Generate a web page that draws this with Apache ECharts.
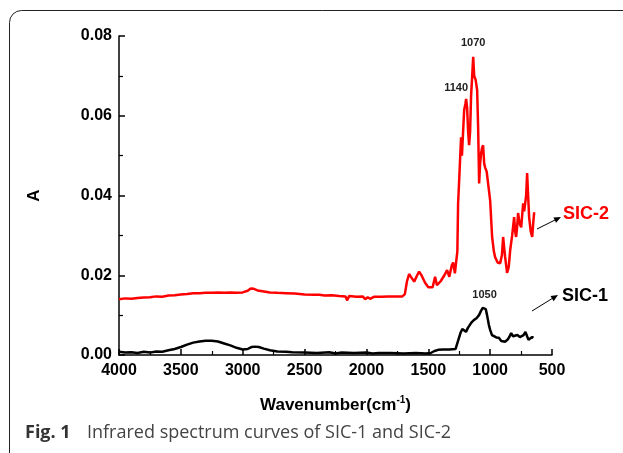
<!DOCTYPE html>
<html>
<head>
<meta charset="utf-8">
<script src="https://cdn.jsdelivr.net/npm/echarts@6/dist/echarts.min.js"></script>
<style>
html,body{margin:0;padding:0;background:#fff;}
#chart{width:623px;height:453px;}
</style>
</head>
<body>
<div id="chart"></div>
<script>
// ---- data ----
var xTicks = [500, 1000, 1500, 2000, 2500, 3000, 3500, 4000];
var yTicks = [0.00, 0.02, 0.04, 0.06, 0.08];

var sic2Wave = [4000,3950,3900,3850,3800,3750,3700,3650,3600,3550,3500,3450,3400,3350,3300,3250,3200,3150,3100,3050,3000,2960,2935,2910,2880,2840,2780,2720,2650,2580,2500,2420,2380,2340,2280,2220,2170,2155,2140,2080,2030,2010,1990,1970,1940,1880,1820,1760,1710,1690,1672,1655,1640,1614,1590,1574,1555,1526,1500,1486,1465,1445,1430,1420,1400,1370,1348,1330,1323,1310,1299,1285,1275,1265,1259,1250,1243,1235,1228,1218,1210,1200,1194,1186,1178,1170,1162,1154,1145,1137,1129,1117,1105,1097,1089,1081,1073,1065,1057,1048,1040,1028,1016,1000,984,970,960,940,919,905,895,887,879,863,850,838,822,806,798,790,782,774,762,749,741,733,725,717,709,701,693,685,672,660,652,644];
var sic2Abs = [0.0140,0.0142,0.0141,0.0143,0.0144,0.0145,0.0147,0.0146,0.0149,0.0150,0.0152,0.0153,0.0155,0.0155,0.0156,0.0156,0.0157,0.0156,0.0157,0.0156,0.0157,0.0161,0.0167,0.0166,0.0162,0.0160,0.0157,0.0156,0.0155,0.0154,0.0152,0.0151,0.0151,0.0149,0.0150,0.0148,0.0147,0.0137,0.0148,0.0146,0.0147,0.0140,0.0145,0.0141,0.0146,0.0146,0.0147,0.0147,0.0147,0.0152,0.0185,0.0203,0.0196,0.0184,0.0200,0.0209,0.0200,0.0181,0.0170,0.0165,0.0170,0.0196,0.0175,0.0170,0.0185,0.0200,0.0213,0.0196,0.0200,0.0225,0.0232,0.0205,0.0205,0.0260,0.0380,0.0440,0.0490,0.0546,0.0500,0.0564,0.0614,0.0630,0.0642,0.0620,0.0560,0.0526,0.0560,0.0650,0.0700,0.0748,0.0700,0.0690,0.0664,0.0570,0.0430,0.0480,0.0506,0.0520,0.0526,0.0480,0.0470,0.0460,0.0456,0.0388,0.0296,0.0260,0.0246,0.0232,0.0230,0.0250,0.0296,0.0270,0.0246,0.0206,0.0220,0.0263,0.0300,0.0346,0.0310,0.0296,0.0320,0.0356,0.0330,0.0320,0.0350,0.0380,0.0360,0.0356,0.0400,0.0456,0.0400,0.0346,0.0310,0.0296,0.0330,0.0358];

var sic1Wave = [4000,3950,3900,3850,3800,3750,3700,3650,3600,3550,3500,3450,3400,3350,3300,3250,3200,3150,3100,3050,3000,2960,2930,2900,2870,2830,2780,2720,2650,2600,2500,2400,2300,2250,2200,2100,2000,1950,1900,1800,1700,1600,1520,1480,1450,1420,1380,1330,1280,1265,1255,1240,1225,1210,1195,1180,1165,1150,1130,1110,1090,1075,1060,1045,1035,1025,1010,1000,985,970,950,930,910,895,880,860,845,830,815,800,780,760,745,730,715,705,690,675,660,650];
var sic1Abs = [0.0008,0.0006,0.0007,0.0005,0.0008,0.0006,0.0009,0.0008,0.0012,0.0015,0.0020,0.0026,0.0031,0.0034,0.0036,0.0036,0.0034,0.0029,0.0024,0.0018,0.0014,0.0015,0.0020,0.0021,0.0020,0.0016,0.0012,0.0009,0.0008,0.0007,0.0006,0.0005,0.0007,0.0004,0.0006,0.0005,0.0006,0.0004,0.0005,0.0005,0.0004,0.0005,0.0004,0.0005,0.0010,0.0013,0.0014,0.0014,0.0015,0.0020,0.0040,0.0055,0.0065,0.0060,0.0058,0.0068,0.0075,0.0082,0.0088,0.0092,0.0100,0.0110,0.0118,0.0122,0.0115,0.0100,0.0075,0.0063,0.0050,0.0045,0.0044,0.0043,0.0035,0.0030,0.0033,0.0038,0.0045,0.0055,0.0047,0.0043,0.0050,0.0045,0.0043,0.0050,0.0058,0.0050,0.0038,0.0043,0.0045,0.0043];

var sic2Peaks = [{text:'1140', wave:1194, abs:0.0642}, {text:'1070', wave:1137, abs:0.0748}];
var sic1Peaks = [{text:'1050', wave:1045, abs:0.0122}];

var seriesNames = ['SIC-2', 'SIC-1'];
var axisNameX = 'Wavenumber(cm';
var axisNameY = 'A';
var captionBold = 'Fig. 1';
var captionText = 'Infrared spectrum curves of SIC-1 and SIC-2';

function zip(a, b) { return a.map(function (v, i) { return [v, b[i]]; }); }

var FONT = '"Liberation Sans", Arial, sans-serif';
var peakOffsets = { '1140': [-10, -11], '1070': [0, -14], '1050': [0, -11] };

function peakData(list) {
  return list.map(function (p) {
    return {
      coord: [p.wave, p.abs],
      label: { formatter: p.text, offset: peakOffsets[p.text] }
    };
  });
}

var chart = echarts.init(document.getElementById('chart'), null, { renderer: 'canvas' });
chart.setOption({
  animation: false,
  backgroundColor: '#fff',
  grid: { left: 119, right: 71, top: 36, bottom: 98 },
  xAxis: {
    type: 'value', inverse: true,
    min: xTicks[0], max: xTicks[xTicks.length - 1], interval: 500,
    splitLine: { show: false },
    axisLine: { lineStyle: { color: '#000', width: 1.5 } },
    axisTick: { inside: true, length: 6, lineStyle: { color: '#000', width: 1.5 } },
    minorTick: { show: true, splitNumber: 2, length: 4, lineStyle: { color: '#000', width: 1.2 } },
    axisLabel: { color: '#000', fontFamily: FONT, fontWeight: 'bold', fontSize: 16, margin: 8,
      formatter: function (v) { return String(v); } },
    name: '{a|' + axisNameX + '}{s|-1}{a|)}',
    nameLocation: 'middle', nameGap: 40,
    nameTextStyle: {
      rich: {
        a: { fontFamily: FONT, fontWeight: 'bold', fontSize: 17, color: '#000', lineHeight: 20 },
        s: { fontFamily: FONT, fontWeight: 'bold', fontSize: 10, color: '#000', verticalAlign: 'top', lineHeight: 20, padding: [0, 0, 8, 0] }
      }
    }
  },
  yAxis: {
    type: 'value', min: yTicks[0], max: yTicks[yTicks.length - 1], interval: 0.02,
    splitLine: { show: false },
    axisLine: { show: true, lineStyle: { color: '#000', width: 1.5 } },
    axisTick: { show: true, inside: true, length: 6, lineStyle: { color: '#000', width: 1.5 } },
    minorTick: { show: true, splitNumber: 2, length: 4, lineStyle: { color: '#000', width: 1.2 } },
    axisLabel: { color: '#000', fontFamily: FONT, fontWeight: 'bold', fontSize: 16, margin: 7,
      formatter: function (v) { return v.toFixed(2); } },
    name: axisNameY, nameLocation: 'middle', nameGap: 76, nameRotate: 90,
    nameTextStyle: { fontFamily: FONT, fontWeight: 'bold', fontSize: 17, color: '#000' }
  },
  series: [
    {
      name: seriesNames[0], type: 'line', data: zip(sic2Wave, sic2Abs),
      showSymbol: false, symbol: 'none',
      lineStyle: { color: '#ff0000', width: 2.5 }, itemStyle: { color: '#ff0000' },
      markPoint: {
        symbol: 'circle', symbolSize: 0,
        label: { show: true, position: 'inside', color: '#222', fontFamily: FONT, fontWeight: 'bold', fontSize: 11 },
        data: peakData(sic2Peaks)
      },
      z: 3
    },
    {
      name: seriesNames[1], type: 'line', data: zip(sic1Wave, sic1Abs),
      showSymbol: false, symbol: 'none',
      lineStyle: { color: '#000', width: 2.5 }, itemStyle: { color: '#000' },
      markPoint: {
        symbol: 'circle', symbolSize: 0,
        label: { show: true, position: 'inside', color: '#222', fontFamily: FONT, fontWeight: 'bold', fontSize: 11 },
        data: peakData(sic1Peaks)
      },
      z: 2
    }
  ],
  graphic: [
    { type: 'rect', shape: { x: 9.5, y: 10.5, width: 700, height: 500, r: 12 },
      style: { fill: 'none', stroke: '#222', lineWidth: 1 }, silent: true, z: 0 },
    // SIC-2 annotation
    { type: 'line', shape: { x1: 537, y1: 229, x2: 555, y2: 220 }, style: { stroke: '#000', lineWidth: 1 } },
    { type: 'polygon', shape: { points: [[561, 217], [556.1, 222.8], [553.4, 217.4]] }, style: { fill: '#000' } },
    { type: 'text', left: 563, top: 205, style: { text: seriesNames[0], fill: '#ff0000', font: 'bold 18px "Liberation Sans", Arial, sans-serif' } },
    // SIC-1 annotation
    { type: 'line', shape: { x1: 532, y1: 311, x2: 553, y2: 298 }, style: { stroke: '#000', lineWidth: 1 } },
    { type: 'polygon', shape: { points: [[558, 295], [553.6, 301.2], [550.5, 296.1]] }, style: { fill: '#000' } },
    { type: 'text', left: 562, top: 287, style: { text: seriesNames[1], fill: '#000', font: 'bold 18px "Liberation Sans", Arial, sans-serif' } },
    // caption
    { type: 'text', left: 25, top: 424, style: { text: captionBold, fill: '#333', font: 'bold 18px "Open Sans", sans-serif' } },
    { type: 'text', left: 87, top: 424, style: { text: captionText, fill: '#444', font: '18px "Open Sans", sans-serif' } }
  ]
});
</script>
</body>
</html>
